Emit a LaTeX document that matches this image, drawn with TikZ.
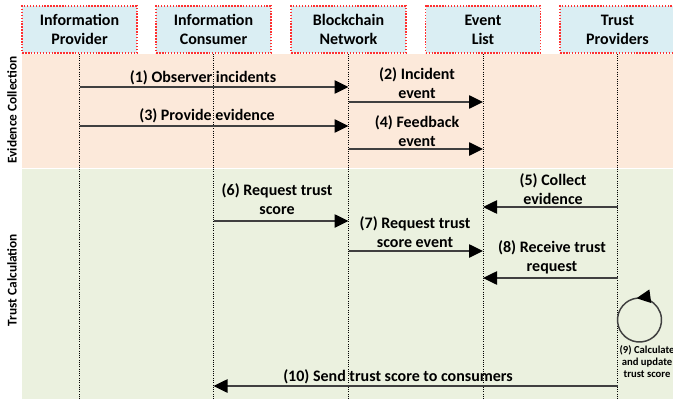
\documentclass[tikz,border=0pt]{standalone}
\usepackage{fontspec}
\setmainfont{Carlito}
\usetikzlibrary{arrows.meta,calc}
\definecolor{hdrfill}{HTML}{DAEEF3}
\definecolor{hdrline}{HTML}{FF3030}
\definecolor{evbg}{HTML}{FCE9DA}
\definecolor{tcbg}{HTML}{EBF1DF}
\definecolor{msgline}{HTML}{404040}
\begin{document}
\begin{tikzpicture}[x=0.75pt,y=-0.75pt,
  hdr/.style={draw=hdrline, line width=1.1pt, dash pattern=on 1.1pt off 1.1pt, fill=hdrfill,
    minimum width=86pt, minimum height=35pt, align=center,
    font=\fontsize{12}{14.25}\selectfont\bfseries, inner sep=0pt},
  life/.style={densely dotted, line width=0.7pt, black},
  msg/.style={draw=msgline, line width=1.1pt, -{Triangle[length=10.5pt,width=10pt,color=black]}},
  lbl/.style={align=center, font=\fontsize{12}{14.25}\selectfont\bfseries, inner sep=0pt},
  small/.style={align=center, font=\fontsize{8}{9}\selectfont\bfseries, inner sep=0pt},
  side/.style={rotate=90, font=\fontsize{10}{12}\selectfont\bfseries, inner sep=0pt}]
\useasboundingbox (0,0) rectangle (673,403);
% phase backgrounds
\fill[evbg] (22,54) rectangle (673,168);
\fill[tcbg] (22,169) rectangle (673,399);
\node[side] (evlab) at (12,110) {Evidence Collection};
\node[side] (tclab) at (12,280) {Trust Calculation};
% headers
\node[hdr] (ip) at (79.5,29.5) {Information\\Provider};
\node[hdr] (ic) at (213.5,29.5) {Information\\Consumer};
\node[hdr] (bn) at (348.5,29.5) {Blockchain\\Network};
\node[hdr] (el) at (483,29.5) {Event\\List};
\node[hdr] (tp) at (617.5,29.5) {Trust\\Providers};
% lifelines
\foreach \n in {ip,ic,bn,el,tp}{
  \coordinate (\n end) at (\n.south |- 0,399);
  \draw[life] (\n.south) -- (\n end);
}
% messages
\draw[msg] (ip |- 0,87) -- (bn |- 0,87);
\node[lbl] (m1) at (203,78) {(1) Observer incidents};
\draw[msg] (bn |- 0,102) -- (el |- 0,102);
\node[lbl] (m2) at (417,83.5) {(2) Incident\\event};
\draw[msg] (ip |- 0,126) -- (bn |- 0,126);
\node[lbl] (m3) at (207,116) {(3) Provide evidence};
\draw[msg] (bn |- 0,149) -- (el |- 0,149);
\node[lbl] (m4) at (417,131.5) {(4) Feedback\\event};
\draw[msg] (tp |- 0,207) -- (el |- 0,207);
\node[lbl] (m5) at (553,189.5) {(5) Collect\\evidence};
\draw[msg] (ic |- 0,221) -- (bn |- 0,221);
\node[lbl] (m6) at (277,199) {(6) Request trust\\score};
\draw[msg] (bn |- 0,251) -- (el |- 0,251);
\node[lbl] (m7) at (415,232.5) {(7) Request trust\\score event};
\draw[msg] (tp |- 0,278) -- (el |- 0,278);
\node[lbl] (m8) at (552,257) {(8) Receive trust\\request};
% self loop
\coordinate (loopc) at ($(tp |- 0,320)+(22,0)$);
\draw[msg] (loopc) ++(625:22) arc[start angle=625, end angle=262, radius=22];
\node[small] (m9) at (647,362) {(9) Calculate\\and update\\trust score};
\draw[msg] (tp |- 0,386) -- (ic |- 0,386);
\node[lbl] (m10) at (398,377) {(10) Send trust score to consumers};
\end{tikzpicture}
\end{document}
